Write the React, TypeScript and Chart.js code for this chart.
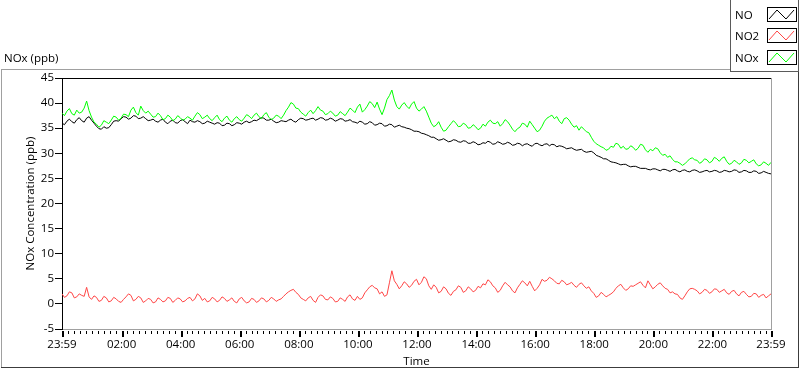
import React, { useEffect, useRef } from "react";
import { Chart, registerables } from "chart.js";

Chart.register(...registerables);

// ---- data (one sample every 5 minutes, starting 23:59) ----
const STEP_MINUTES = 5;

const NO = [
  36.0, 35.7, 36.4, 36.8, 36.3, 36.0, 36.7, 37.1, 36.5, 36.2, 37.0, 37.3, 36.6, 36.0, 35.4, 34.9, 34.8, 35.3, 35.0, 35.1,
  35.7, 36.4, 36.5, 36.4, 36.9, 37.3, 37.2, 36.8, 37.0, 37.5, 37.4, 36.9, 37.0, 37.3, 36.9, 36.5, 36.6, 36.8, 36.4, 36.2,
  36.6, 36.8, 36.2, 35.9, 36.4, 36.6, 36.1, 36.0, 36.5, 36.7, 36.3, 35.9, 36.6, 36.3, 36.2, 36.5, 36.3, 35.9, 36.0, 36.4,
  36.2, 36.0, 35.8, 36.1, 36.0, 35.5, 35.6, 36.0, 35.9, 35.5, 35.7, 36.1, 36.0, 35.8, 36.2, 36.4, 36.1, 36.3, 36.6, 36.5,
  36.8, 37.1, 37.0, 36.6, 36.6, 36.8, 36.4, 36.1, 36.2, 36.5, 36.4, 36.3, 36.6, 36.8, 36.4, 36.2, 36.7, 37.0, 36.9, 36.6,
  36.7, 36.9, 37.0, 36.6, 36.8, 37.1, 37.0, 36.6, 36.7, 37.0, 36.8, 36.4, 36.6, 36.9, 36.8, 36.4, 36.5, 36.7, 36.3, 36.2,
  36.0, 36.4, 36.2, 35.8, 35.9, 36.3, 36.1, 35.6, 35.7, 36.0, 35.9, 35.4, 35.5, 35.8, 35.7, 35.2, 35.4, 35.6, 35.3, 35.2,
  35.0, 34.9, 34.7, 34.4, 34.4, 34.3, 34.0, 33.9, 33.7, 33.5, 33.2, 33.2, 32.9, 32.6, 32.7, 32.9, 32.6, 32.3, 32.4, 32.7,
  32.6, 32.3, 32.2, 32.5, 32.4, 32.0, 32.0, 32.3, 32.1, 31.7, 31.8, 32.1, 32.0, 32.4, 32.2, 31.8, 31.9, 32.3, 32.1, 31.8,
  31.9, 32.2, 32.0, 31.6, 31.7, 32.0, 31.9, 31.5, 31.8, 31.9, 31.6, 31.4, 31.9, 32.0, 31.7, 31.5, 31.8, 31.9, 31.5, 31.8,
  31.7, 31.3, 31.5, 31.4, 31.2, 30.9, 31.0, 31.1, 30.8, 30.6, 30.7, 30.8, 30.4, 30.2, 30.3, 30.4, 30.1, 29.6, 29.4, 29.2,
  28.9, 28.9, 28.6, 28.3, 28.2, 28.1, 27.9, 27.7, 27.8, 27.8, 27.5, 27.3, 27.4, 27.4, 27.2, 27.0, 27.0, 27.0, 26.8, 26.7,
  26.9, 26.9, 26.7, 26.5, 26.8, 26.8, 26.6, 26.4, 26.7, 26.8, 26.5, 26.3, 26.6, 26.7, 26.4, 26.3, 26.6, 26.7, 26.5, 26.2,
  26.3, 26.5, 26.6, 26.3, 26.4, 26.6, 26.5, 26.2, 26.3, 26.6, 26.5, 26.3, 26.4, 26.7, 26.6, 26.2, 26.3, 26.6, 26.5, 26.2,
  26.2, 26.5, 26.4, 26.0, 26.1, 26.4, 26.2, 26.0, 25.9,
];

const NO2 = [
  2.0, 1.3, 1.6, 2.4, 2.2, 1.2, 1.4, 2.0, 1.7, 1.5, 3.3, 1.4, 0.9, 1.6, 1.3, 0.5, 0.7, 1.5, 1.2, 0.4,
  0.6, 1.3, 1.0, 0.5, 0.3, 0.9, 1.4, 2.0, 1.7, 0.6, 0.9, 1.5, 1.2, 0.3, 0.6, 1.1, 0.9, 0.2, 0.4, 1.2,
  0.9, 0.4, 0.6, 1.3, 1.1, 0.3, 0.7, 1.2, 1.0, 0.4, 0.6, 1.1, 1.3, 0.6, 1.0, 2.0, 1.6, 0.7, 1.1, 0.4,
  0.6, 1.3, 1.0, 0.4, 0.7, 1.4, 1.1, 0.5, 0.8, 1.2, 0.5, 0.2, 1.0, 1.3, 0.6, 0.2, 0.4, 1.1, 0.9, 0.3,
  0.6, 1.2, 1.0, 0.4, 0.7, 1.3, 1.0, 0.5, 0.8, 1.0, 1.5, 2.0, 2.4, 2.7, 2.9, 2.3, 1.9, 1.2, 0.9, 0.6,
  1.2, 1.5, 0.7, 0.3, 1.3, 1.8, 1.6, 0.9, 0.8, 1.4, 1.1, 0.4, 0.5, 1.2, 0.9, 0.5, 1.4, 1.8, 1.0, 0.7,
  1.5, 0.9, 1.2, 2.2, 2.8, 3.4, 3.7, 3.2, 3.0, 2.0, 2.4, 1.5, 1.8, 4.2, 6.6, 4.6, 3.9, 3.0, 3.6, 4.4,
  4.0, 3.3, 3.7, 4.5, 4.9, 3.8, 4.3, 5.4, 5.0, 3.6, 2.9, 3.8, 3.3, 2.2, 2.5, 3.4, 3.0, 2.1, 1.7, 2.5,
  2.8, 3.6, 3.3, 2.3, 2.6, 3.4, 3.0, 2.4, 2.7, 3.5, 3.2, 4.0, 3.8, 4.8, 4.4, 3.6, 3.2, 2.3, 2.7, 3.6,
  4.3, 3.8, 3.4, 2.6, 2.2, 3.2, 3.9, 4.6, 4.2, 3.6, 4.5, 3.5, 2.6, 3.1, 3.8, 4.9, 4.5, 4.7, 5.3, 5.0,
  4.6, 4.1, 4.0, 4.7, 4.4, 3.8, 4.0, 4.3, 3.7, 3.3, 3.9, 4.2, 3.6, 3.1, 3.4, 2.6, 2.1, 1.3, 1.6, 2.3,
  1.9, 1.4, 1.7, 2.0, 2.4, 3.1, 3.6, 3.9, 3.2, 2.7, 3.0, 3.6, 3.5, 3.8, 4.1, 4.4, 3.7, 3.2, 4.6, 3.8,
  3.0, 3.4, 3.9, 4.2, 3.6, 3.1, 2.9, 2.2, 2.4, 2.0, 1.9, 1.2, 0.9, 1.6, 2.4, 3.0, 3.1, 2.9, 2.6, 2.0,
  2.3, 2.9, 2.7, 2.1, 2.4, 3.0, 2.9, 2.3, 2.6, 2.9, 2.2, 1.9, 2.5, 2.7, 2.0, 1.6, 2.3, 2.5, 1.9, 1.4,
  1.5, 2.1, 2.0, 1.3, 1.7, 1.9, 1.2, 1.6, 2.0,
];

const NOX = [
  38.0, 37.5, 38.4, 38.9, 37.9, 37.6, 38.6, 38.0, 38.2, 39.0, 40.4, 38.5, 37.2, 36.2, 35.8, 35.2, 35.6, 36.5, 36.2, 35.9,
  36.6, 37.4, 37.2, 36.6, 37.0, 37.8, 37.7, 37.3, 38.6, 39.2, 38.1, 37.6, 39.4, 38.5, 38.0, 38.4, 37.8, 37.2, 37.3, 38.0,
  37.5, 36.7, 36.9, 37.6, 37.2, 36.5, 36.8, 37.5, 37.1, 36.6, 36.8, 37.3, 37.0, 36.6, 37.4, 38.1, 37.7, 36.9, 37.2, 37.6,
  36.9, 36.5, 37.1, 37.6, 36.7, 36.3, 37.0, 37.4, 36.6, 36.2, 36.9, 37.3, 36.7, 36.4, 37.0, 37.7, 37.4, 36.9, 37.6, 38.0,
  37.3, 36.9, 37.7, 38.1, 37.2, 36.7, 37.0, 37.6, 37.4, 36.9, 37.6, 38.5, 39.2, 40.1, 39.8, 39.0, 38.9, 38.2, 37.8, 37.4,
  38.1, 38.6, 37.9, 38.5, 39.3, 38.6, 38.4, 37.7, 37.9, 38.4, 38.0, 37.4, 37.6, 38.3, 37.9, 37.5, 38.2, 39.0, 38.6, 38.1,
  39.2, 39.8, 38.2, 38.7, 39.4, 40.3, 39.9, 39.1, 40.2, 38.8, 37.7, 39.0, 40.7, 41.5, 42.6, 40.6, 39.3, 38.8, 39.6, 40.1,
  39.4, 38.9, 39.8, 40.3, 39.0, 38.4, 38.8, 39.3, 38.4, 37.2, 36.0, 35.3, 35.6, 36.3, 35.2, 34.4, 34.6, 35.3, 35.9, 36.5,
  36.0, 35.3, 35.4, 36.0, 35.7, 35.0, 35.1, 35.7, 35.3, 34.7, 35.0, 35.8, 35.4, 36.2, 36.6, 36.0, 35.9, 36.3, 35.4, 35.9,
  36.7, 36.3, 35.6, 34.8, 34.3, 34.9, 35.2, 36.0, 35.8, 35.2, 36.4, 35.7, 35.0, 34.3, 34.6, 35.4, 36.4, 37.0, 37.3, 37.6,
  36.9, 37.3, 36.4, 35.9, 36.9, 37.1, 36.6, 35.8, 35.2, 35.5, 34.6, 35.3, 34.8, 34.3, 34.1, 33.2, 32.4, 31.9, 31.6, 31.3,
  31.1, 30.6, 30.8, 31.4, 31.2, 32.0, 31.8, 31.0, 31.4, 30.8, 30.9, 31.5, 31.2, 30.6, 31.0, 31.8, 31.6, 30.7, 30.2, 30.8,
  30.5, 31.1, 30.9, 30.1, 29.6, 29.8, 29.2, 29.5, 28.8, 28.3, 28.3, 28.0, 27.6, 27.9, 28.4, 28.9, 29.1, 28.7, 28.6, 28.0,
  28.3, 28.9, 28.7, 28.1, 28.4, 29.2, 28.9, 28.4, 29.0, 29.3, 28.4, 27.8, 28.0, 28.6, 28.3, 27.8, 28.1, 28.8, 28.6, 28.1,
  28.4, 28.7, 27.9, 27.5, 27.7, 28.3, 28.0, 27.6, 28.2,
];

const SERIES_LABELS = ["NO", "NO2", "NOx"];
const SERIES_COLORS = ["#000000", "#ff4646", "#00ff00"];

const X_MAX_MINUTES = 1440;
const X_TICK_VALUES = [0, 121, 241, 361, 481, 601, 721, 841, 961, 1081, 1201, 1321, 1440];
const X_TICK_LABELS = [
  "23:59", "02:00", "04:00", "06:00", "08:00", "10:00", "12:00",
  "14:00", "16:00", "18:00", "20:00", "22:00", "23:59",
];
const X_MINOR_STEP = 12;
const Y_MIN = -5;
const Y_MAX = 45;
const Y_STEP = 5;

const CHART_TITLE = "NOx (ppb)";
const X_TITLE = "Time";
const Y_TITLE = "NOx Concentration (ppb)";

const FONT_FAMILY = "'Open Sans', 'DejaVu Sans', sans-serif";
const FONT_SIZE = 11.5;

const framePlugin = {
  id: "labviewFrame",
  beforeDraw(chart: any) {
    const { ctx, width, height } = chart;
    ctx.save();
    ctx.fillStyle = "#ffffff";
    ctx.fillRect(0, 0, width, height);
    ctx.restore();
  },
  afterDraw(chart: any) {
    const { ctx, chartArea: a } = chart;
    const xs = chart.scales.x;
    ctx.save();

    // plot area frame: top black, right light gray
    ctx.fillStyle = "#000000";
    ctx.fillRect(a.left, a.top, a.right - a.left + 1, 1);
    ctx.fillStyle = "#a0a0a0";
    ctx.fillRect(Math.round(a.right), a.top, 1, a.bottom - a.top + 1);

    // x-axis tick marks (minor + major)
    ctx.fillStyle = "#000000";
    const tickTop = Math.round(a.bottom) + 2;
    for (let t = X_TICK_VALUES[0] + 1 + X_MINOR_STEP; t < X_MAX_MINUTES; t += X_MINOR_STEP) {
      if (X_TICK_VALUES.includes(t)) continue;
      const px = Math.round(xs.getPixelForValue(t));
      ctx.fillRect(px, tickTop, 1, 3);
    }
    for (const v of X_TICK_VALUES) {
      const px = Math.round(xs.getPixelForValue(v));
      ctx.fillRect(px, tickTop, 2, 6);
    }

    // outer frame
    ctx.fillStyle = "#a0a0a0";
    ctx.fillRect(1, 69, 729, 1);
    ctx.fillRect(1, 69, 1, 299);
    ctx.fillStyle = "#3c3c3c";
    ctx.fillRect(1, 367, 798, 1);
    ctx.fillRect(798, 71, 1, 297);

    // chart caption
    ctx.font = `${FONT_SIZE}px ${FONT_FAMILY}`;
    ctx.fillStyle = "#000000";
    ctx.textAlign = "left";
    ctx.textBaseline = "alphabetic";
    ctx.fillText(CHART_TITLE, 4, 62);

    // legend box
    ctx.fillStyle = "#ffffff";
    ctx.fillRect(731, 0, 67, 71);
    ctx.fillStyle = "#5a5a5a";
    ctx.fillRect(730, 0, 1, 72);
    ctx.fillRect(730, 71, 69, 1);
    ctx.fillRect(798, 0, 1, 72);

    const boxTops = [7, 28, 50];
    chart.data.datasets.forEach((ds: any, i: number) => {
      const top = boxTops[i];
      ctx.fillStyle = "#000000";
      ctx.fillText(ds.label, 735, top + 11.5);
      ctx.strokeStyle = "#000000";
      ctx.lineWidth = 1;
      ctx.strokeRect(767.5, top + 0.5, 29, 14);
      ctx.strokeStyle = ds.borderColor;
      ctx.beginPath();
      ctx.moveTo(769, top + 12);
      ctx.lineTo(777, top + 3);
      ctx.lineTo(786, top + 12);
      ctx.lineTo(794, top + 3);
      ctx.stroke();
    });

    ctx.restore();
  },
};

export default function App() {
  const ref = useRef<HTMLCanvasElement>(null);

  useEffect(() => {
    const canvas = ref.current;
    if (!canvas) return;
    Chart.defaults.font.family = FONT_FAMILY;
    Chart.defaults.font.size = FONT_SIZE;
    Chart.defaults.color = "#000000";

    const toPoints = (arr: number[]) => arr.map((y, i) => ({ x: i * STEP_MINUTES, y }));

    const chart = new Chart(canvas, {
      type: "line",
      data: {
        datasets: [
          { label: SERIES_LABELS[0], data: toPoints(NO), borderColor: SERIES_COLORS[0], order: 3 },
          { label: SERIES_LABELS[1], data: toPoints(NO2), borderColor: SERIES_COLORS[1], order: 2 },
          { label: SERIES_LABELS[2], data: toPoints(NOX), borderColor: SERIES_COLORS[2], order: 1 },
        ],
      },
      options: {
        animation: false,
        responsive: false,
        devicePixelRatio: 1,
        layout: { padding: { top: 78, right: 29, left: 0, bottom: 0 } },
        elements: {
          line: { borderWidth: 1, tension: 0, fill: false },
          point: { radius: 0, hoverRadius: 0 },
        },
        plugins: {
          legend: { display: false },
          tooltip: { enabled: false },
          title: { display: false },
        },
        events: [],
        scales: {
          x: {
            type: "linear",
            min: 0,
            max: X_MAX_MINUTES,
            afterFit: (s: any) => {
              s.height = 40;
            },
            afterBuildTicks: (s: any) => {
              s.ticks = X_TICK_VALUES.map((v) => ({ value: v }));
            },
            grid: { display: false, drawTicks: false, tickLength: 0 },
            border: { display: true, color: "#a0a0a0", width: 1 },
            ticks: {
              autoSkip: false,
              maxRotation: 0,
              minRotation: 0,
              padding: 9,
              color: "#000000",
              callback: (_v: any, i: number) => X_TICK_LABELS[i],
            },
            title: {
              display: true,
              text: X_TITLE,
              color: "#000000",
              padding: { top: 0, bottom: 0 },
            },
          },
          y: {
            min: Y_MIN,
            max: Y_MAX,
            afterFit: (s: any) => {
              s.width = 62;
            },
            ticks: { stepSize: Y_STEP, padding: 1, color: "#000000" },
            grid: { drawOnChartArea: false, tickLength: 7, color: "#000000", tickColor: "#000000" },
            border: { display: true, color: "#000000", width: 1 },
            title: {
              display: true,
              text: Y_TITLE,
              color: "#000000",
              padding: { top: 24, bottom: 0 },
            },
          },
        },
      },
      plugins: [framePlugin],
    } as any);

    let alive = true;
    if ((document as any).fonts && (document as any).fonts.ready) {
      (document as any).fonts.ready.then(() => {
        if (alive) chart.update();
      });
    }

    return () => {
      alive = false;
      chart.destroy();
    };
  }, []);

  return (
    <div style={{ position: "fixed", left: 0, top: 0, width: 800, height: 369, background: "#fff" }}>
      <canvas ref={ref} width={800} height={369} style={{ display: "block", width: 800, height: 369 }} />
    </div>
  );
}
